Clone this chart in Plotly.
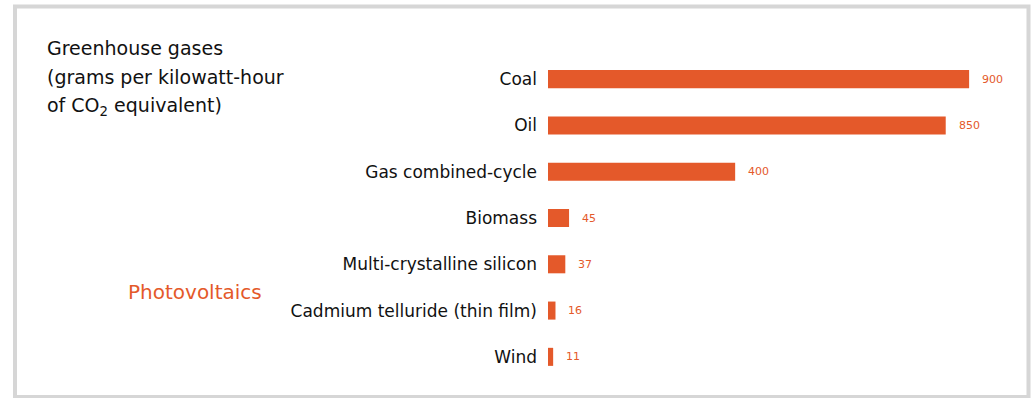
import plotly.graph_objects as go

# Life-cycle greenhouse gas emissions by generation source
sources = [
    "Coal",
    "Oil",
    "Gas combined-cycle",
    "Biomass",
    "Multi-crystalline silicon",
    "Cadmium telluride (thin film)",
    "Wind",
]
emissions = [900, 850, 400, 45, 37, 16, 11]
value_labels = [str(v) for v in emissions]

title_lines = [
    "Greenhouse gases",
    "(grams per kilowatt-hour",
    "of CO<sub>2</sub> equivalent)",
]
group_label = "Photovoltaics"

W, H = 1036, 398
L, R, T, B = 548, 36, 56, 18
plot_w = W - L - R
plot_h = H - T - B
X_MAX = 966

ORANGE = "#e4592a"
FONT = "DejaVu Sans"


def px_x(px):
    return (px - L) / plot_w


def px_y(py):
    return (H - B - py) / plot_h


fig = go.Figure(
    go.Bar(
        x=emissions,
        y=sources,
        orientation="h",
        marker=dict(color=ORANGE, line=dict(width=0)),
        hoverinfo="skip",
    )
)

annotations = []
for src, val, lab in zip(sources, emissions, value_labels):
    annotations.append(
        dict(
            x=val, y=src, xref="x", yref="y", text=lab, showarrow=False,
            xanchor="left", xshift=11,
            font=dict(family=FONT, size=11, color=ORANGE),
        )
    )

for line, py in zip(title_lines, [48, 77, 106]):
    annotations.append(
        dict(
            x=px_x(45), y=px_y(py), xref="paper", yref="paper", text=line,
            showarrow=False, xanchor="left", yanchor="middle",
            font=dict(family=FONT, size=19, color="#111111"),
        )
    )

annotations.append(
    dict(
        x=px_x(126), y=px_y(292), xref="paper", yref="paper", text=group_label,
        showarrow=False, xanchor="left", yanchor="middle",
        font=dict(family=FONT, size=20, color=ORANGE),
    )
)

fig.update_layout(
    width=W,
    height=H,
    autosize=False,
    margin=dict(l=L, r=R, t=T, b=B, pad=0),
    paper_bgcolor="white",
    plot_bgcolor="white",
    showlegend=False,
    bargap=0.61,
    annotations=annotations,
    shapes=[
        dict(
            type="rect", xref="paper", yref="paper",
            x0=px_x(15), x1=px_x(1028.5), y0=px_y(397), y1=px_y(6.5),
            line=dict(color="#d6d6d6", width=4), fillcolor="rgba(0,0,0,0)",
            layer="below",
        )
    ],
    xaxis=dict(visible=False, range=[0, X_MAX], fixedrange=True),
    yaxis=dict(
        type="category",
        categoryorder="array",
        categoryarray=sources,
        autorange="reversed",
        showgrid=False,
        zeroline=False,
        showline=False,
        ticks="",
        ticklabelstandoff=10,
        tickfont=dict(family=FONT, size=17, color="#111111"),
        fixedrange=True,
    ),
)

fig.write_html("out.html")
